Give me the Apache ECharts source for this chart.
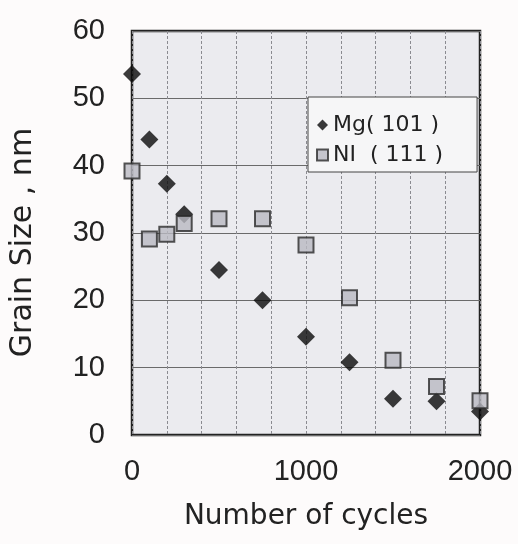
<!DOCTYPE html>
<html>
<head>
<meta charset="utf-8">
<script src="https://cdn.jsdelivr.net/npm/echarts@6/dist/echarts.min.js"></script>
<style>
  html, body { margin: 0; padding: 0; background: #fdfbfb; }
  #chart { width: 518px; height: 544px; }
</style>
</head>
<body>
<div id="chart"></div>
<script>
const cycles = [0, 100, 200, 300, 500, 750, 1000, 1250, 1500, 1750, 2000]
const mgSize = [53.6, 43.9, 37.3, 32.8, 24.5, 20, 14.6, 10.8, 5.4, 5, 3.5]
const niSize = [39.2, 29.1, 29.8, 31.4, 32.1, 32.1, 28.2, 20.4, 11.1, 7.2, 5.1]
const xTickLabels = [0, 1000, 2000]
const seriesNames = ['Mg( 101 )', 'NI  ( 111 )']

const pairs = (ys) => cycles.map((c, i) => [c, ys[i]])

const chart = echarts.init(document.getElementById('chart'))
const font = 'Liberation Sans, Arial, sans-serif'
const wide = 'DejaVu Sans, sans-serif'

const option = {
  backgroundColor: '#fdfbfb',
  animation: false,
  grid: {
    left: 132,
    right: 38,
    top: 31,
    bottom: 109,
    show: true,
    backgroundColor: '#ebebef',
    borderColor: '#222',
    borderWidth: 2.5,
  },
  legend: {
    orient: 'vertical',
    left: 308,
    top: 97,
    padding: [17, 34, 6, 8],
    itemGap: 8,
    itemWidth: 11,
    itemHeight: 11,
    backgroundColor: '#f6f6f7',
    borderColor: '#444',
    borderWidth: 1,
    textStyle: { fontFamily: wide, fontSize: 22, lineHeight: 22, color: '#222' },
    data: [
      { name: seriesNames[0], icon: 'diamond' },
      { name: seriesNames[1], icon: 'rect' },
    ],
  },
  xAxis: {
    type: 'value',
    min: 0,
    max: 2000,
    interval: 200,
    name: 'Number of cycles',
    nameLocation: 'middle',
    nameGap: 68,
    nameTextStyle: { fontFamily: wide, fontSize: 28, color: '#222' },
    axisLine: { show: false },
    axisTick: { show: false },
    axisLabel: {
      margin: 22,
      fontFamily: font,
      fontSize: 29,
      color: '#222',
      formatter: (v) => (xTickLabels.includes(v) ? String(v) : ''),
    },
    splitLine: { show: true, lineStyle: { color: '#8a8a90', width: 1, type: [3, 2] } },
  },
  yAxis: {
    type: 'value',
    min: 0,
    max: 60,
    interval: 10,
    name: 'Grain Size , nm  ',
    nameLocation: 'middle',
    nameGap: 94,
    nameTextStyle: { fontFamily: wide, fontSize: 30, color: '#222' },
    axisLine: { show: false },
    axisTick: { show: false },
    axisLabel: { margin: 27, fontFamily: font, fontSize: 29, color: '#222' },
    splitLine: { show: true, lineStyle: { color: '#6a6a6a', width: 1 } },
  },
  series: [
    {
      name: seriesNames[0],
      type: 'scatter',
      symbol: 'diamond',
      symbolSize: 18,
      itemStyle: { color: '#0a0a0a' },
      data: pairs(mgSize),
    },
    {
      name: seriesNames[1],
      type: 'scatter',
      symbol: 'rect',
      symbolSize: 15,
      itemStyle: { color: '#b9b9c2', borderColor: '#2a2a2a', borderWidth: 2 },
      data: pairs(niSize),
    },
  ],
}

chart.setOption(option)
</script>
</body>
</html>
